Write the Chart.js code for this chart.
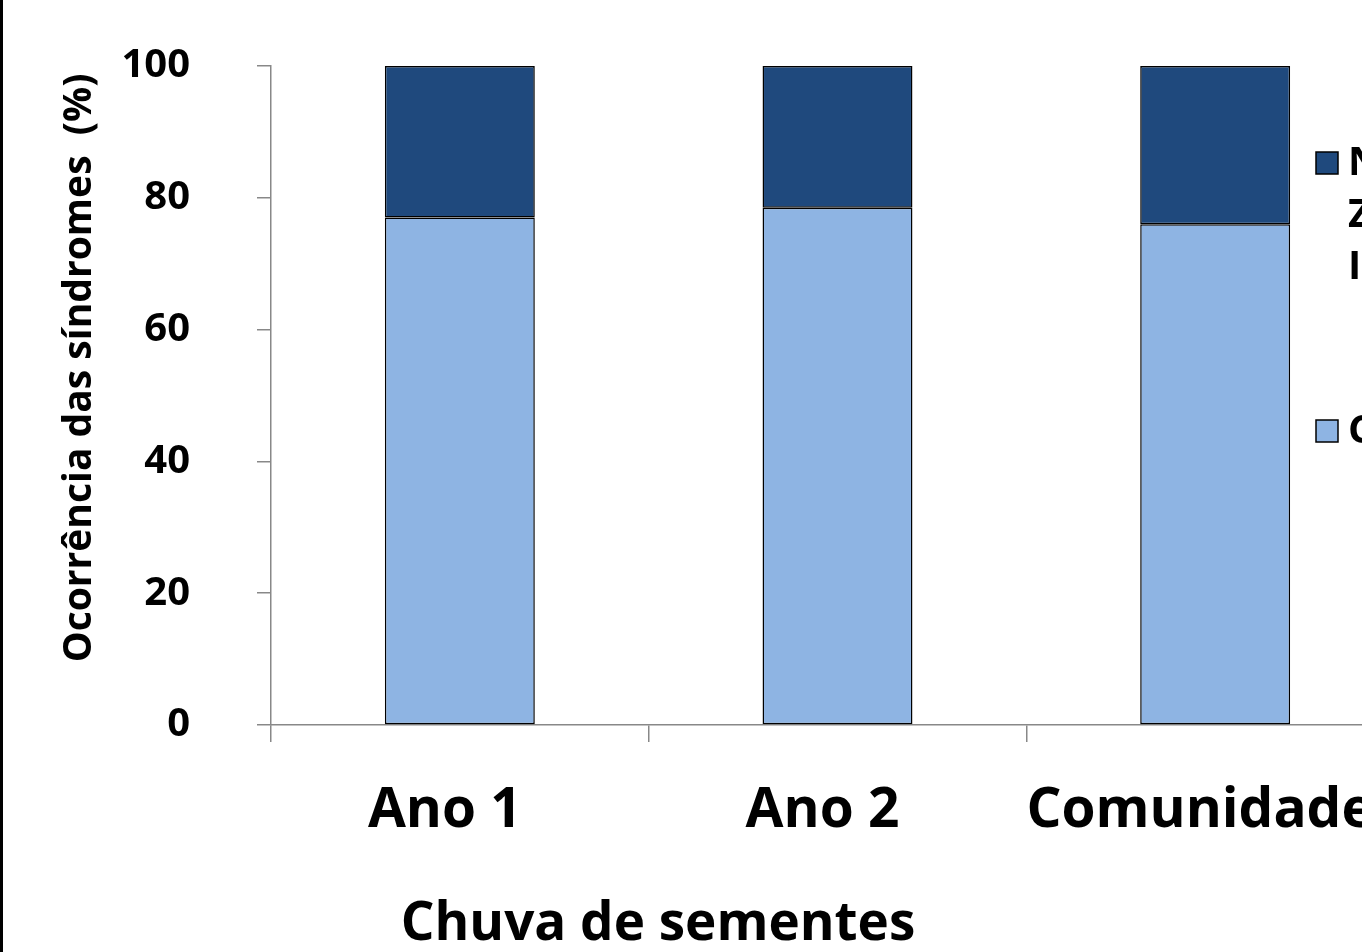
<!DOCTYPE html>
<html>
<head>
<meta charset="utf-8">
<script src="https://cdn.jsdelivr.net/npm/chart.js@4/dist/chart.umd.min.js"></script>
<style>
  html, body { margin: 0; padding: 0; background: #fff; overflow: hidden; width: 1362px; height: 952px; }
  #wrap { position: absolute; left: 0; top: 0; width: 1700px; height: 952px; }
  #edge { position: absolute; left: 0; top: 0; width: 3px; height: 952px; background: #000; z-index: 2; }
</style>
</head>
<body>
<div id="edge"></div>
<div id="wrap"><canvas id="grafico"></canvas></div>
<script>
// dados
const categorias = ["Ano 1", "Ano 2", "Comunidade"];
const serieBase = [77, 78.5, 76];      // azul claro
const serieTopo = [23, 21.5, 24];      // azul escuro
const yTicks = [0, 20, 40, 60, 80, 100];
const legendaTopo = ["N", "Z", "I"];
const legendaBase = ["C"];
const tituloX = "Chuva de sementes";
const tituloY = "Ocorrência das síndromes  (%)";

const fonte = "'Open Sans', 'DejaVu Sans', sans-serif";

// legenda e títulos desenhados à mão, nas posições do original
const extrasPlugin = {
  id: "extras",
  afterDraw(chart) {
    const ctx = chart.ctx;
    const itens = [
      { cor: "#1F497D", linhas: legendaTopo, y: 152 },
      { cor: "#8EB4E3", linhas: legendaBase, y: 420 }
    ];
    ctx.save();
    ctx.font = "bold 40px " + fonte;
    ctx.textBaseline = "middle";
    itens.forEach(it => {
      ctx.fillStyle = it.cor;
      ctx.fillRect(1316, it.y, 22, 22);
      ctx.strokeStyle = "#000";
      ctx.lineWidth = 1.5;
      ctx.strokeRect(1316, it.y, 22, 22);
      ctx.fillStyle = "#000";
      it.linhas.forEach((t, i) => ctx.fillText(t, 1348, it.y + 12 + i * 52));
    });

    ctx.textAlign = "center";
    ctx.font = "bold 53px " + fonte;
    ctx.fillText(tituloX, 658, 925);

    ctx.translate(80, 368);
    ctx.rotate(-Math.PI / 2);
    ctx.font = "bold 39px " + fonte;
    ctx.fillText(tituloY, 0, 0);
    ctx.restore();
  }
};

new Chart(document.getElementById("grafico"), {
  type: "bar",
  data: {
    labels: categorias,
    datasets: [
      {
        label: legendaBase.join(" "),
        data: serieBase,
        backgroundColor: "#8EB4E3",
        borderColor: "#000",
        borderWidth: 1.5,
        borderSkipped: false,
        barPercentage: 0.397,
        categoryPercentage: 1
      },
      {
        label: legendaTopo.join(" "),
        data: serieTopo,
        backgroundColor: "#1F497D",
        borderColor: "#000",
        borderWidth: 1.5,
        borderSkipped: false,
        barPercentage: 0.397,
        categoryPercentage: 1
      }
    ]
  },
  options: {
    responsive: true,
    maintainAspectRatio: false,
    animation: false,
    layout: { padding: { left: 0, top: 66, right: 296, bottom: 0 } },
    plugins: {
      legend: { display: false },
      tooltip: { enabled: false }
    },
    scales: {
      x: {
        stacked: true,
        offset: true,
        grid: { offset: true, drawOnChartArea: false, color: "#888", tickLength: 17, lineWidth: 1.5 },
        border: { color: "#888", width: 1.5 },
        ticks: { color: "#000", font: { family: fonte, size: 55, weight: "bold" }, padding: 36, maxRotation: 0, labelOffset: -15 },
        afterFit(scale) { scale.height = 227; }
      },
      y: {
        stacked: true,
        min: 0,
        max: 100,
        afterBuildTicks(scale) { scale.ticks = yTicks.map(v => ({ value: v })); },
        grid: { drawOnChartArea: false, color: "#888", tickLength: 14, lineWidth: 1.5 },
        border: { color: "#888", width: 1.5 },
        ticks: { color: "#000", font: { family: fonte, size: 40, weight: "bold" }, padding: 67 },
        afterFit(scale) {
          scale.width = 271;
          scale.paddingTop = 0;
          scale.paddingBottom = 0;
        }
      }
    }
  },
  plugins: [extrasPlugin]
});
</script>
</body>
</html>
